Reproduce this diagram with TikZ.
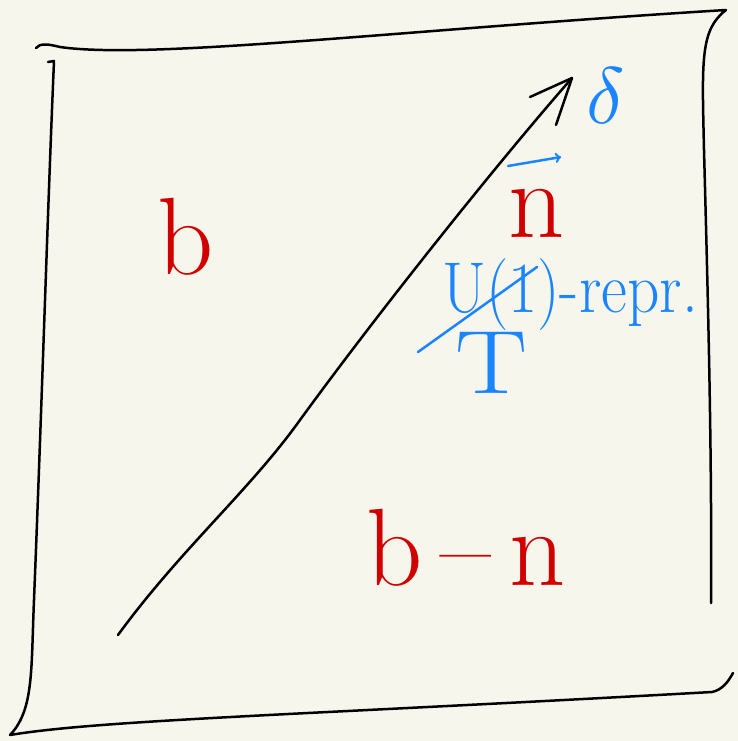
\documentclass[tikz,border=0pt]{standalone}
\usepackage{graphicx}
\definecolor{paper}{HTML}{F7F6EC}
\definecolor{inkred}{HTML}{D00000}
\definecolor{inkblue}{HTML}{1A85FF}
\begin{document}
\begin{tikzpicture}[x=1pt,y=-1pt,
  pen/.style={line width=2.5pt,line cap=round,line join=round},
  redtxt/.style={text=inkred,inner sep=0pt},
  bluetxt/.style={text=inkblue,inner sep=0pt}]
\fill[paper] (0,0) rectangle (738,741);
\useasboundingbox (0,0) rectangle (738,741);
% frame
\draw[pen,black] (36,48) .. controls (40,43) and (48,44) .. (60,47)
  .. controls (150,60) and (400,30) .. (726,10)
  .. controls (700,30) and (702,60) .. (704,150)
  .. controls (708,300) and (712,450) .. (711,603);
\draw[pen,black] (48,62) -- (54,61)
  .. controls (48,200) and (42,400) .. (34,600)
  .. controls (31,670) and (34,710) .. (10,735)
  .. controls (100,720) and (300,715) .. (712,692)
  .. controls (722,690) and (728,682) .. (733,673);
% diagonal arrow
\coordinate (s) at (118,635);
\coordinate (e) at (572,78);
\draw[pen,black] (s) .. controls (180,550) and (250,490) .. (300,420)
  .. controls (380,310) and (500,160) .. (e);
\draw[pen,black] (530,97) -- (e) -- (556,125);
% labels
\node[redtxt,anchor=base,font=\fontsize{110}{110}\selectfont] (b) at (186,274) {b};
\node[redtxt,anchor=base,font=\fontsize{110}{110}\selectfont] (bn) at (466,585) {b\,--\,n};
\node[redtxt,anchor=base,font=\fontsize{110}{110}\selectfont] (n) at (537,237) {n};
\coordinate (v1) at (508,166);
\coordinate (v2) at (561,157);
\draw[pen,inkblue,->] (v1) -- (v2);
\node[bluetxt,anchor=base] (d) at (606,124) {\scalebox{8}{$\delta$}};
\node[bluetxt,anchor=base,font=\fontsize{72}{72}\selectfont] (u) at (570,312) {\scalebox{0.88}[1]{U(1)-repr.}};
\coordinate (k1) at (418,352);
\coordinate (k2) at (537,267);
\draw[pen,inkblue] (k1) -- (k2);
\node[bluetxt,anchor=base,font=\fontsize{90}{90}\selectfont] (t) at (492,393) {\scalebox{1.2}[1]{T}};
\end{tikzpicture}
\end{document}
